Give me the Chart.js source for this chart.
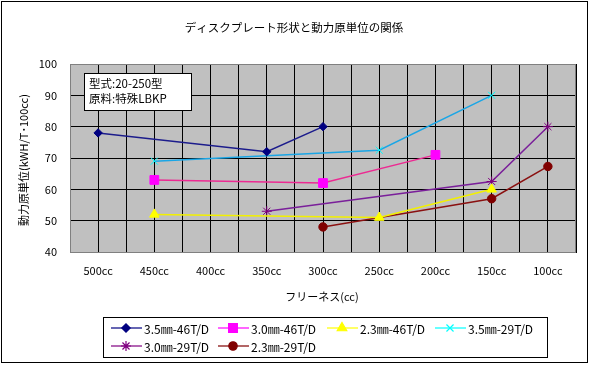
<!DOCTYPE html>
<html lang="ja">
<head>
    <meta charset="UTF-8">
    <title>ディスクプレート形状と動力原単位の関係</title>
    <script src="https://cdn.jsdelivr.net/npm/chart.js"></script>
    <style>
        html, body { margin: 0; padding: 0; background: #fff; }
        #wrap { width: 590px; height: 365px; position: relative; }
    </style>
</head>
<body>
    <div id="wrap"><canvas id="chart" width="590" height="365"></canvas></div>

    <script>
        // データ
        const categories = ['500cc', '450cc', '400cc', '350cc', '300cc', '250cc', '200cc', '150cc', '100cc'];
        const yTicks = [40, 50, 60, 70, 80, 90, 100];

        const s35_46 = [78, null, null, 72, 80, null, null, null, null];
        const s30_46 = [null, 63, null, null, 62, null, 71, null, null];
        const s23_46 = [null, 52, null, null, null, 51, null, 60, null];
        const s35_29 = [null, 69, null, null, null, 72.5, null, 90, null];
        const s30_29 = [null, null, null, 53, null, null, null, 62.5, 80];
        const s23_29 = [null, null, null, null, 48, null, null, 57, 67.3];

        const FONT = '"Noto Sans CJK JP", "Noto Sans", sans-serif';

        function pts(arr) {
            return arr.map((v, i) => v === null ? null : { x: i, y: v }).filter(p => p);
        }

        const series = [
            { label: '3.5㎜-46T/D', data: s35_46, line: '#1c1c8c', fill: '#000080', stroke: '#000080', style: 'rectRot', r: 4.2 },
            { label: '3.0㎜-46T/D', data: s30_46, line: '#ec2a92', fill: '#ff00ff', stroke: '#ff00ff', style: 'rect', r: 6.2 },
            { label: '2.3㎜-46T/D', data: s23_46, line: '#f2f000', fill: '#ffff00', stroke: '#ffff00', style: 'triangle', r: 5.5 },
            { label: '3.5㎜-29T/D', data: s35_29, line: '#1aa6e6', fill: '#00ffff', stroke: '#00ffff', style: 'crossRot', r: 5 },
            { label: '3.0㎜-29T/D', data: s30_29, line: '#7a1f9a', fill: '#800080', stroke: '#800080', style: 'star', r: 5 },
            { label: '2.3㎜-29T/D', data: s23_29, line: '#8a1010', fill: '#800000', stroke: '#800000', style: 'circle', r: 4.2 }
        ];

        // 背景・枠・タイトル・凡例
        const decor = {
            id: 'decor',
            beforeDraw(chart) {
                const ctx = chart.ctx;
                const a = chart.chartArea;
                ctx.save();
                ctx.fillStyle = '#fff';
                ctx.fillRect(0, 0, chart.width, chart.height);
                ctx.fillStyle = '#c0c0c0';
                ctx.fillRect(a.left, a.top, a.right - a.left, a.bottom - a.top);
                ctx.restore();
            },
            afterDraw(chart) {
                const ctx = chart.ctx;
                const a = chart.chartArea;
                ctx.save();
                // 外枠
                ctx.strokeStyle = '#000';
                ctx.lineWidth = 1;
                ctx.strokeRect(1.5, 1.5, 586, 361);
                // プロットエリア枠
                ctx.strokeStyle = '#808080';
                ctx.strokeRect(a.left + 0.5, a.top + 0.5, a.right - a.left - 1, a.bottom - a.top);

                ctx.fillStyle = '#000';
                ctx.textAlign = 'center';
                ctx.textBaseline = 'middle';
                ctx.font = '11.5px ' + FONT;
                ctx.fillText('ディスクプレート形状と動力原単位の関係', 294, 28);

                ctx.font = '11px ' + FONT;
                ctx.fillText('フリーネス(cc)', 322, 297);

                ctx.save();
                ctx.translate(24, 160);
                ctx.rotate(-Math.PI / 2);
                ctx.fillText('動力原単位(kWH/T･100cc)', 0, 0);
                ctx.restore();

                // テキストボックス
                ctx.fillStyle = '#fff';
                ctx.fillRect(84, 73, 107, 37);
                ctx.strokeStyle = '#000';
                ctx.strokeRect(84.5, 73.5, 107, 37);
                ctx.fillStyle = '#000';
                ctx.textAlign = 'left';
                ctx.font = '11.5px ' + FONT;
                ctx.fillText('型式:20-250型', 89, 84);
                ctx.fillText('原料:特殊LBKP', 89, 99);

                // 凡例
                ctx.strokeRect(103.5, 317.5, 444, 40);
                ctx.font = '12px ' + FONT;
                const cols = [111, 218, 327, 435];
                const rows = [328, 346];
                series.forEach((s, i) => {
                    const x = cols[i % 4];
                    const y = rows[Math.floor(i / 4)];
                    ctx.strokeStyle = s.stroke;
                    ctx.lineWidth = 1.2;
                    ctx.beginPath();
                    ctx.moveTo(x, y);
                    ctx.lineTo(x + 31, y);
                    ctx.stroke();
                    ctx.fillStyle = s.fill;
                    ctx.strokeStyle = s.stroke;
                    Chart.helpers.drawPoint(ctx, { pointStyle: s.style, radius: s.r, rotation: 0, borderWidth: 1 }, x + 15, y);
                    ctx.fillStyle = '#000';
                    ctx.fillText(s.label, x + 33, y + 1);
                });
                ctx.restore();
            }
        };

        const datasets = series.map(s => ({
            label: s.label,
            data: pts(s.data),
            borderColor: s.line,
            borderWidth: 1.5,
            backgroundColor: s.fill,
            pointBackgroundColor: s.fill,
            pointBorderColor: s.stroke,
            pointBorderWidth: 1,
            pointStyle: s.style,
            pointRadius: s.r,
            tension: 0
        }));

        new Chart(document.getElementById('chart'), {
            type: 'line',
            data: { datasets: datasets },
            options: {
                responsive: false,
                animation: false,
                layout: { padding: { left: 0, top: 64, right: 14, bottom: 83 } },
                plugins: { legend: { display: false }, title: { display: false }, tooltip: { enabled: false } },
                scales: {
                    x: {
                        type: 'linear',
                        min: -0.5,
                        max: 8.5,
                        afterFit(scale) { scale.height = 30; },
                        afterBuildTicks(scale) {
                            const t = [];
                            for (let v = -0.5; v <= 8.5; v += 0.5) t.push({ value: v });
                            scale.ticks = t;
                        },
                        grid: { color: '#000', lineWidth: 1, drawTicks: false },
                        border: { color: '#000' },
                        ticks: {
                            autoSkip: false,
                            maxRotation: 0,
                            padding: 12,
                            color: '#000',
                            font: { family: FONT, size: 11 },
                            callback: v => Number.isInteger(v) ? categories[v] : ''
                        }
                    },
                    y: {
                        min: 40,
                        max: 100,
                        afterFit(scale) { scale.width = 70; },
                        afterBuildTicks(scale) { scale.ticks = yTicks.map(v => ({ value: v })); },
                        grid: { color: '#000', lineWidth: 1, drawTicks: false },
                        border: { color: '#000' },
                        ticks: {
                            padding: 13,
                            color: '#000',
                            font: { family: FONT, size: 11 }
                        }
                    }
                }
            },
            plugins: [decor]
        });
    </script>
</body>
</html>
